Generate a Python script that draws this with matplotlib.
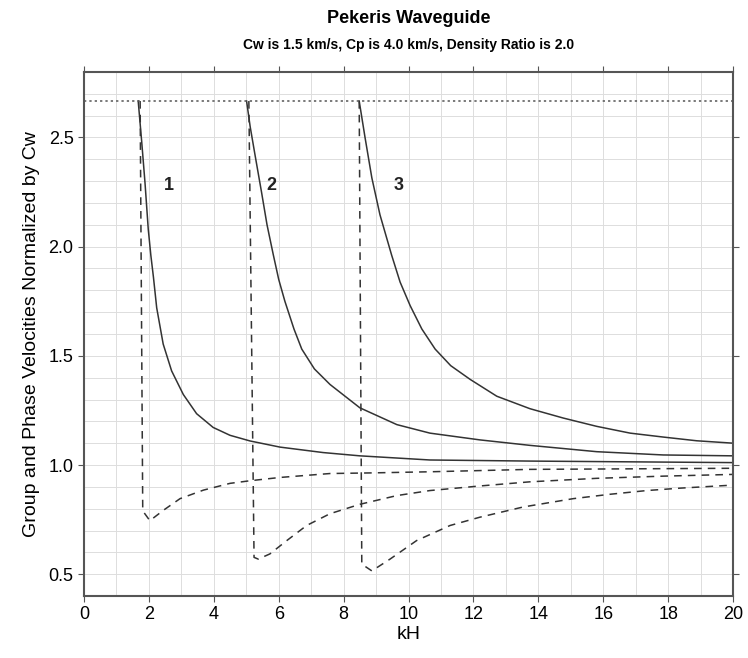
import matplotlib.pyplot as plt
from matplotlib.ticker import MultipleLocator

CP_OVER_CW = 2.667

# phase velocities (solid)
kh_p1 = [1.67, 1.78, 1.88, 1.98, 2.06, 2.14, 2.24, 2.44, 2.70, 3.06, 3.47, 3.98, 4.50, 5.12,
         6.04, 7.37, 8.5, 10.66, 13.74, 20.0]
vp1 = [2.667, 2.477, 2.292, 2.08, 1.96, 1.86, 1.72, 1.554, 1.431, 1.323, 1.235, 1.172, 1.136, 1.110,
       1.082, 1.057, 1.042, 1.023, 1.018, 1.011]
kh_p2 = [5.01, 5.12, 5.27, 5.47, 5.64, 5.83, 6.0, 6.19, 6.47, 6.71, 7.1, 7.58, 8.5, 9.64,
         10.66, 12.2, 13.74, 15.8, 17.85, 20.0]
vp2 = [2.667, 2.55, 2.42, 2.25, 2.10, 1.965, 1.85, 1.75, 1.623, 1.531, 1.44, 1.369, 1.262, 1.185,
       1.146, 1.115, 1.090, 1.061, 1.046, 1.042]
kh_p3 = [8.48, 8.66, 8.87, 9.12, 9.48, 9.74, 10.05, 10.41, 10.82, 11.3, 11.9, 12.72, 13.74, 14.77,
         15.8, 16.83, 17.85, 18.88, 20.0]
vp3 = [2.667, 2.50, 2.315, 2.146, 1.961, 1.838, 1.730, 1.623, 1.531, 1.455, 1.392, 1.315, 1.258, 1.215,
       1.177, 1.146, 1.128, 1.111, 1.100]

# group velocities (dashed)
kh_g1 = [1.73, 1.81, 2.03, 2.44, 2.96, 3.68, 4.5, 5.12, 6.04, 7.58, 8.92, 10.66, 13.74, 20.0]
vg1 = [2.667, 0.79, 0.745, 0.792, 0.846, 0.885, 0.916, 0.928, 0.943, 0.961, 0.964, 0.969, 0.980, 0.985]
kh_g2 = [5.08, 5.24, 5.37, 5.73, 6.25, 6.86, 7.58, 8.5, 9.64, 10.66, 12.2, 13.74, 15.8, 17.85, 20.0]
vg2 = [2.667, 0.577, 0.569, 0.593, 0.654, 0.723, 0.777, 0.820, 0.860, 0.883, 0.904, 0.923, 0.939, 0.949, 0.957]
kh_g3 = [8.48, 8.56, 8.87, 9.43, 10.25, 11.28, 12.2, 13.54, 15.08, 16.21, 17.34, 18.37, 20.0]
vg3 = [2.667, 0.546, 0.515, 0.569, 0.654, 0.723, 0.761, 0.808, 0.846, 0.866, 0.883, 0.894, 0.908]

mode_labels = ["1", "2", "3"]
label_x = [2.6, 5.78, 9.69]
label_y = [2.28, 2.28, 2.28]

plt.rcParams["font.family"] = ["Liberation Sans", "DejaVu Sans"]

fig = plt.figure(figsize=(7.48, 6.58), dpi=100)
ax = fig.add_axes([0.1123, 0.0942, 0.8677, 0.7964])

line_color = "#333333"
for kh, v in [(kh_p1, vp1), (kh_p2, vp2), (kh_p3, vp3)]:
    ax.plot(kh, v, color=line_color, lw=1.1, solid_joinstyle="round")
for kh, v in [(kh_g1, vg1), (kh_g2, vg2), (kh_g3, vg3)]:
    ax.plot(kh, v, color=line_color, lw=1.1, dashes=(5, 4))
ax.axhline(CP_OVER_CW, color="#555555", lw=1.1, linestyle=(0, (1.5, 2)))

for txt, x, y in zip(mode_labels, label_x, label_y):
    ax.text(x, y, txt, fontsize=13, fontweight="bold", ha="center", va="center", color="#222222")

ax.set_xlim(0, 20)
ax.set_ylim(0.4, 2.8)
ax.xaxis.set_major_locator(MultipleLocator(2))
ax.xaxis.set_minor_locator(MultipleLocator(1))
ax.yaxis.set_major_locator(MultipleLocator(0.5))
ax.yaxis.set_minor_locator(MultipleLocator(0.1))
ax.yaxis.set_major_formatter(plt.FormatStrFormatter("%.1f"))
ax.grid(which="both", color="#dddddd", lw=0.7)
ax.set_axisbelow(True)
ax.tick_params(which="major", direction="out", length=4, labelsize=13, top=True, right=True, color="#555555")
ax.tick_params(which="minor", length=0)
for s in ax.spines.values():
    s.set_color("#555555")
    s.set_linewidth(1.5)

ax.set_xlabel("kH", fontsize=14, labelpad=2)
ax.set_ylabel("Group and Phase Velocities Normalized by Cw", fontsize=14, labelpad=6)
fig.text(0.546, 0.972, "Pekeris Waveguide", fontsize=13, fontweight="bold", ha="center", va="center")
fig.text(0.546, 0.932, "Cw is 1.5 km/s, Cp is 4.0 km/s, Density Ratio is 2.0",
         fontsize=10, fontweight="bold", ha="center", va="center")

fig.savefig("out.png", dpi=100)
